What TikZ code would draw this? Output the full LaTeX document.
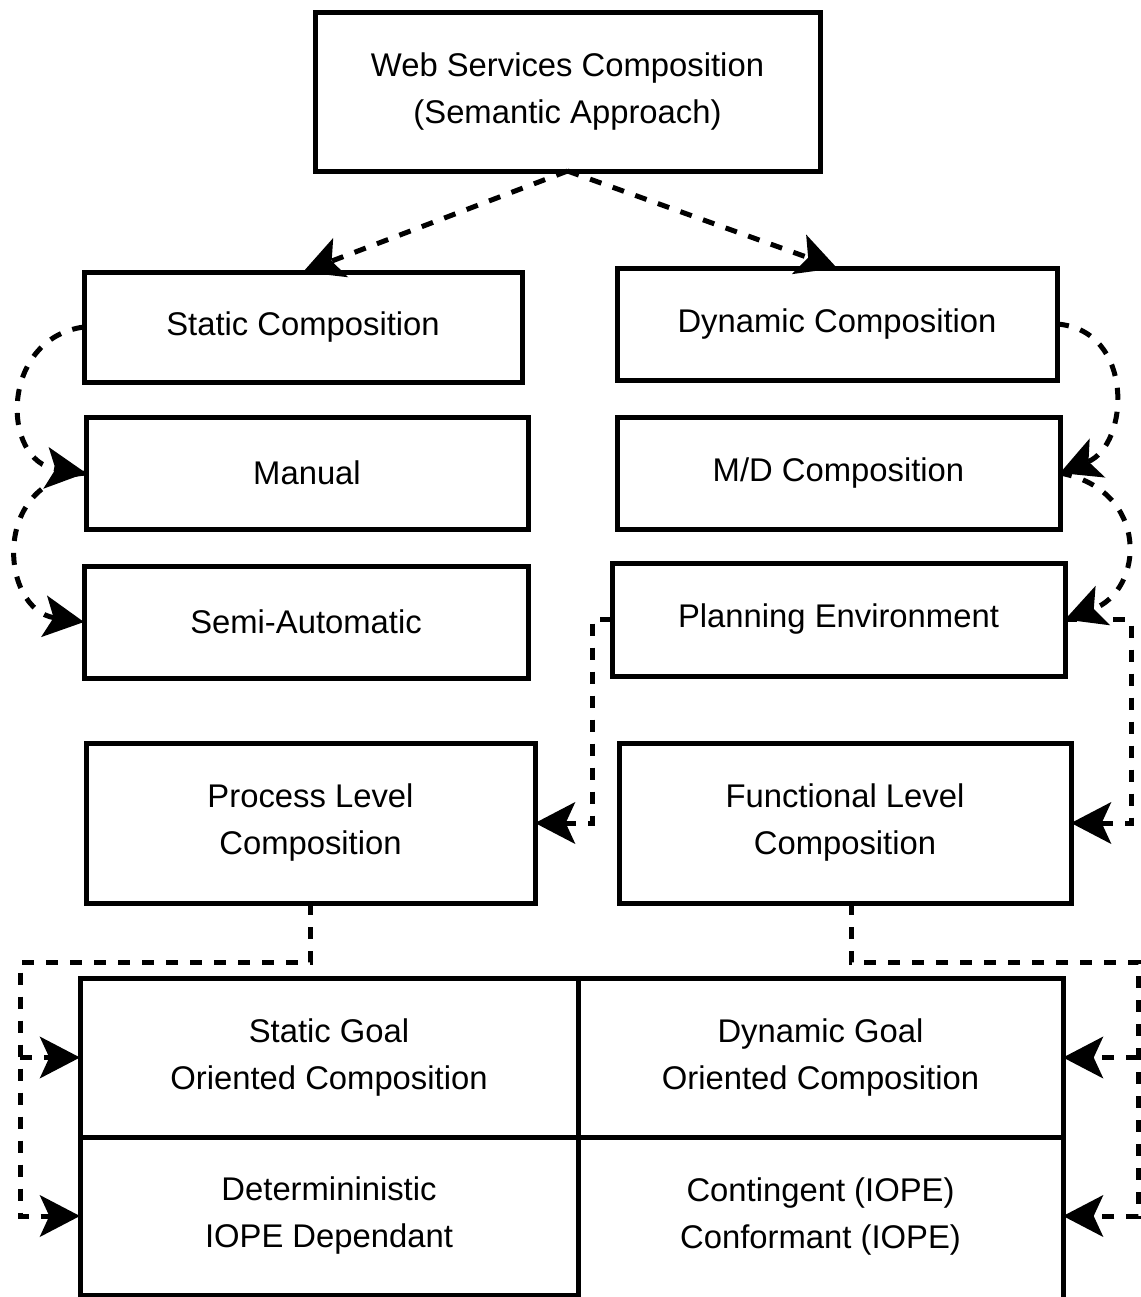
\documentclass[tikz,border=0pt]{standalone}
\usepackage{fontspec}
\setmainfont{Liberation Sans}
\usetikzlibrary{arrows.meta,calc}
\begin{document}
\begin{tikzpicture}[x=0.75pt,y=-0.75pt,
  box/.style={draw, line width=3.75pt, rectangle, inner sep=0pt, outer sep=0pt,
    align=center, font=\fontsize{24.6}{35.25}\selectfont},
  cell/.style={rectangle, inner sep=0pt, outer sep=0pt,
    align=center, font=\fontsize{24.6}{35.25}\selectfont},
  edge/.style={line width=3.75pt},
  link/.style={line width=3.75pt, dash pattern=on 9pt off 9pt,
    -{Stealth[length=30pt,width=31pt,inset=7pt]}}
]
\useasboundingbox (0,0) rectangle (1141,1297);

% top level
\node[box, minimum width=378.75pt, minimum height=119.25pt] (top) at (567.5,91.5)
  {Web Services Composition\\(Semantic Approach)};

% static branch
\node[box, minimum width=328.5pt, minimum height=82.5pt] (stat) at (303,327) {Static Composition};
\node[box, minimum width=331.5pt, minimum height=84pt] (man) at (307,473) {Manual};
\node[box, minimum width=333pt, minimum height=84pt] (semi) at (306,622) {Semi-Automatic};

% dynamic branch
\node[box, minimum width=330pt, minimum height=84pt] (dyn) at (837,324) {Dynamic Composition};
\node[box, minimum width=332.25pt, minimum height=84pt] (md) at (838.5,473) {M/D Composition};
\node[box, minimum width=339.75pt, minimum height=84.75pt] (plan) at (838.5,619.5) {Planning Environment};

% composition levels
\node[box, minimum width=336.75pt, minimum height=120pt] (proc) at (310.5,823)
  {Process Level\\Composition};
\node[box, minimum width=339pt, minimum height=120pt] (fun) at (845,823)
  {Functional Level\\Composition};

% goal oriented grid
\node[box, minimum width=373.5pt, minimum height=119.25pt] (sgo) at (329,1057.5)
  {Static Goal\\Oriented Composition};
\node[box, minimum width=363.75pt, minimum height=119.25pt] (dgo) at (820.5,1057.5)
  {Dynamic Goal\\Oriented Composition};
\node[box, minimum width=373.5pt, minimum height=118.5pt] (det) at (329,1216)
  {Determininistic\\IOPE Dependant};
\node[cell, minimum width=363.75pt, minimum height=118.5pt] (cont) at (820.5,1216)
  {Contingent (IOPE)\\Conformant (IOPE)};
\draw[edge] (cont.north east) -- ++(0,170);

% routing corners
\coordinate (ll) at (20,962);
\coordinate (rr) at (1138,962);

% connectors
\draw[link] (top.south) -- (stat.north);
\draw[link] (top.south) -- (dyn.north);

\draw[link] (stat.west) .. controls (0,338) and (0,462) .. (man.west);
\draw[link] (man.west) .. controls (-10,480) and (0,610) .. (semi.west);

\draw[link] (dyn.east) .. controls (1135,330) and (1130,445) .. (md.east);
\draw[link] (md.east) .. controls (1150,490) and (1145,590) .. (plan.east);

\draw[link] (plan.east) -- ++(66,0) |- (fun.east);
\draw[link] (plan.west) -- ++(-20,0) |- (proc.east);

\draw[link] (proc.south) |- (ll) |- (det.west);
\draw[link] (sgo.west -| ll) -- (sgo.west);

\draw[link] ($(fun.south)+(6,0)$) |- (rr) |- (cont.east);
\draw[link] (dgo.east -| rr) -- (dgo.east);
\end{tikzpicture}
\end{document}
